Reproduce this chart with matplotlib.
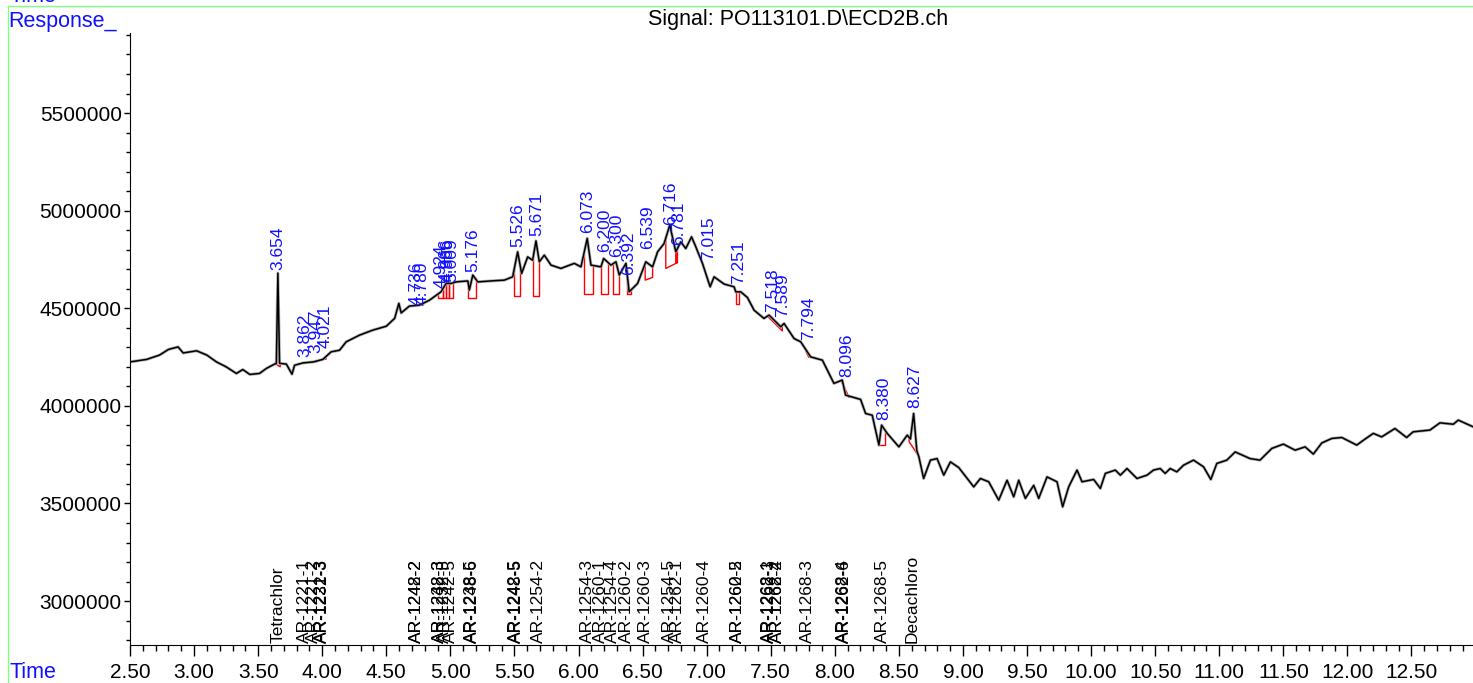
import numpy as np
import matplotlib
matplotlib.use("Agg")
import matplotlib.pyplot as plt
from matplotlib.lines import Line2D
from matplotlib.ticker import MultipleLocator, FuncFormatter

plt.rcParams['font.family'] = ['Liberation Sans', 'DejaVu Sans']

# signal trace (time in min, response)
trace_t = [2.50, 2.63, 2.73, 2.80, 2.875, 2.915, 3.02, 3.10, 3.175, 3.25, 3.33, 3.38, 3.435, 3.51, 3.565,
           3.628, 3.642, 3.654, 3.667, 3.72, 3.764, 3.784, 3.85, 3.93, 4.005, 4.07, 4.135, 4.187, 4.29,
           4.395, 4.50, 4.565, 4.598, 4.616, 4.68, 4.758, 4.836, 4.927, 4.966, 5.005, 5.044, 5.136, 5.148,
           5.175, 5.214, 5.317, 5.421, 5.486, 5.525, 5.556, 5.603, 5.642, 5.668, 5.694, 5.733, 5.785, 5.863,
           5.967, 6.019, 6.068, 6.097, 6.175, 6.196, 6.253, 6.292, 6.318, 6.37, 6.395, 6.461, 6.525, 6.578,
           6.617, 6.668, 6.712, 6.759, 6.798, 6.837, 6.882, 6.915, 6.967, 7.027, 7.058, 7.136, 7.214, 7.227,
           7.266, 7.318, 7.37, 7.447, 7.487, 7.578, 7.604, 7.682, 7.734, 7.811, 7.903, 7.993, 8.058, 8.084,
           8.201, 8.24, 8.292, 8.344, 8.365, 8.409, 8.50, 8.565, 8.590, 8.615, 8.640, 8.656, 8.693, 8.746,
           8.798, 8.85, 8.902, 8.967, 9.033, 9.084, 9.136, 9.201, 9.279, 9.344, 9.396, 9.435, 9.487, 9.552,
           9.591, 9.656, 9.734, 9.778, 9.825, 9.89, 9.929, 10.02, 10.072, 10.111, 10.189, 10.228, 10.28,
           10.358, 10.436, 10.487, 10.539, 10.578, 10.617, 10.669, 10.721, 10.799, 10.877, 10.934, 10.981,
           11.059, 11.124, 11.24, 11.318, 11.41, 11.50, 11.592, 11.67, 11.734, 11.80, 11.878, 11.956, 12.073,
           12.125, 12.202, 12.267, 12.371, 12.462, 12.513, 12.644, 12.722, 12.826, 12.865, 12.969, 12.98]
trace_v = [4225000, 4238000, 4260000, 4289000, 4302000, 4271000, 4282000, 4260000, 4225000, 4200000,
           4166000, 4186000, 4161000, 4166000, 4192000, 4214000, 4216000, 4680000, 4218000, 4214000,
           4162000, 4208000, 4220000, 4225000, 4238000, 4277000, 4285000, 4328000, 4362000, 4388000,
           4408000, 4448000, 4525000, 4476000, 4511000, 4516000, 4541000, 4584000, 4627000, 4627000,
           4635000, 4640000, 4593000, 4670000, 4635000, 4640000, 4644000, 4661000, 4789000, 4678000,
           4763000, 4746000, 4845000, 4738000, 4772000, 4721000, 4704000, 4730000, 4712000, 4858000,
           4721000, 4712000, 4755000, 4721000, 4738000, 4670000, 4730000, 4584000, 4627000, 4738000,
           4712000, 4789000, 4832000, 4926000, 4789000, 4840000, 4806000, 4866000, 4815000, 4730000,
           4610000, 4661000, 4624000, 4610000, 4584000, 4584000, 4555000, 4490000, 4448000, 4465000,
           4405000, 4422000, 4345000, 4328000, 4251000, 4234000, 4115000, 4132000, 4055000, 4033000,
           3961000, 3952000, 3799000, 3901000, 3859000, 3790000, 3850000, 3830000, 3961000, 3770000,
           3739000, 3628000, 3722000, 3730000, 3645000, 3713000, 3684000, 3628000, 3585000, 3628000,
           3611000, 3517000, 3619000, 3534000, 3619000, 3526000, 3593000, 3526000, 3636000, 3611000,
           3483000, 3585000, 3671000, 3611000, 3623000, 3577000, 3654000, 3671000, 3645000, 3679000,
           3628000, 3645000, 3671000, 3679000, 3654000, 3679000, 3662000, 3696000, 3722000, 3688000,
           3623000, 3705000, 3722000, 3764000, 3730000, 3722000, 3782000, 3804000, 3773000, 3790000,
           3753000, 3810000, 3833000, 3838000, 3799000, 3824000, 3859000, 3841000, 3884000, 3838000,
           3867000, 3876000, 3913000, 3906000, 3927000, 3896000, 3893000]

# integrated peaks: retention time label and label height
peak_rt = ['3.654', '3.862', '3.947', '4.021', '4.736', '4.780', '4.924', '4.966', '4.986', '5.009',
           '5.176', '5.526', '5.671', '6.073', '6.200', '6.300', '6.392', '6.539', '6.716', '6.781',
           '7.015', '7.251', '7.518', '7.589', '7.794', '8.096', '8.380', '8.627']
peak_v = [4695000, 4249000, 4270000, 4296000, 4516000, 4516000, 4603000, 4634000, 4634000, 4634000,
          4685000, 4813000, 4869000, 4885000, 4787000, 4762000, 4670000, 4803000, 4926000, 4824000,
          4746000, 4623000, 4480000, 4454000, 4337000, 4147000, 3927000, 3988000]

# integration baselines: start, end, start level, end level
bl_t0 = [3.640, 3.855, 3.940, 4.010, 4.730, 4.906, 4.941, 4.966, 4.993, 5.136, 5.499, 5.642, 6.040,
         6.175, 6.271, 6.375, 6.520, 6.681, 6.760, 6.967, 7.227, 7.480, 7.772, 8.053, 8.344, 8.580]
bl_t1 = [3.672, 3.870, 3.955, 4.030, 4.790, 4.941, 4.966, 4.993, 5.019, 5.200, 5.546, 5.694, 6.110,
         6.232, 6.313, 6.408, 6.578, 6.760, 6.772, 7.027, 7.253, 7.590, 7.798, 8.112, 8.388, 8.658]
bl_v0 = [4214000, 4222000, 4226000, 4238000, 4512000, 4550000, 4550000, 4550000, 4550000, 4555000,
         4562000, 4562000, 4572000, 4572000, 4575000, 4575000, 4644000, 4704000, 4730000, 4730000,
         4521000, 4456000, 4282000, 4123000, 3799000, 3816000]
bl_v1 = [4200000, 4220000, 4224000, 4240000, 4518000, 4550000, 4550000, 4550000, 4550000, 4555000,
         4562000, 4562000, 4572000, 4572000, 4575000, 4575000, 4658000, 4730000, 4733000, 4610000,
         4521000, 4384000, 4248000, 4043000, 3799000, 3739000]

# expected compound windows (bottom labels)
cmp_names = ['Tetrachlor', 'AR-1221-1', 'AR-1221-2', 'AR-1221-3', 'AR-1232-3', 'AR-1242-2', 'AR-1248-2',
             'AR-1232-3', 'AR-1248-3', 'AR-1232-5', 'AR-1242-5', 'AR-1238-5', 'AR-1248-6',
             'AR-1242-5', 'AR-1248-5', 'AR-1254-2', 'AR-1254-3', 'AR-1260-1', 'AR-1254-4', 'AR-1260-2',
             'AR-1260-3', 'AR-1254-5', 'AR-1262-1', 'AR-1260-4', 'AR-1260-5', 'AR-1262-2', 'AR-1268-1',
             'AR-1262-3', 'AR-1262-4', 'AR-1268-2', 'AR-1268-3', 'AR-1268-4', 'AR-1262-6', 'AR-1268-5',
             'Decachloro']
cmp_t = [3.655, 3.862, 3.93, 3.998, 4.002, 4.733, 4.737, 4.912, 4.918, 4.953, 4.998, 5.164, 5.170,
         5.508, 5.512, 5.689, 6.072, 6.175, 6.266, 6.377, 6.525, 6.707, 6.772, 6.98, 7.238, 7.242,
         7.485, 7.489, 7.550, 7.554, 7.786, 8.070, 8.074, 8.370, 8.604]

blue = '#1010ff'

fig = plt.figure(figsize=(14.73, 6.83), dpi=100)
ax = fig.add_axes([130 / 1473, 38 / 683, 1 - 130 / 1473, 612 / 683])

# light grey fuzz under the trace, then the trace itself
ax.plot(trace_t, trace_v, color='#b0b0b0', lw=2.2, zorder=2.5)
ax.plot(trace_t, trace_v, color='black', lw=1.1, zorder=3)

for t0, t1, v0, v1 in zip(bl_t0, bl_t1, bl_v0, bl_v1):
    s0 = np.interp(t0, trace_t, trace_v)
    s1 = np.interp(t1, trace_t, trace_v)
    ax.plot([t0, t0, t1, t1], [s0, v0, v1, s1], color='red', lw=1, zorder=2)

for lab, v in zip(peak_rt, peak_v):
    ax.text(float(lab), v, lab, rotation=90, ha='center', va='bottom', color=blue, fontsize=12.5)

for name, t in zip(cmp_names, cmp_t):
    ax.text(t, 0.004, name, rotation=90, ha='center', va='bottom', fontsize=12.5,
            transform=ax.get_xaxis_transform())

ax.set_xlim(2.5, 12.98)
ax.set_ylim(2775000, 5910000)
ax.spines['top'].set_visible(False)
ax.spines['right'].set_visible(False)
ax.xaxis.set_major_locator(MultipleLocator(0.5))
ax.xaxis.set_minor_locator(MultipleLocator(0.1))
ax.yaxis.set_major_locator(MultipleLocator(500000))
ax.yaxis.set_minor_locator(MultipleLocator(100000))
ax.xaxis.set_major_formatter(FuncFormatter(lambda x, p: f'{x:.2f}'))
ax.yaxis.set_major_formatter(FuncFormatter(lambda y, p: f'{int(round(y))}'))
ax.tick_params(axis='x', which='major', length=8, width=1, labelsize=15, pad=5)
ax.tick_params(axis='x', which='minor', length=4, width=1)
ax.tick_params(axis='y', which='major', length=4, width=1, labelsize=15, pad=2)
ax.tick_params(axis='y', which='minor', length=3, width=1)

fig.text(648 / 1473, 1 - 20 / 683, 'Signal: PO113101.D\\ECD2B.ch', ha='left', va='center', fontsize=15.5)
fig.text(8 / 1473, 1 - 27 / 683, 'Response_', ha='left', va='baseline', fontsize=15.5, color=blue)
fig.text(10 / 1473, 1 - 2 / 683, 'Time', ha='left', va='baseline', fontsize=15.5, color=blue)
fig.text(10 / 1473, 1 - 673 / 683, 'Time', ha='left', va='center', fontsize=15.5, color=blue)

green = '#80ff80'
fig.add_artist(Line2D([8 / 1473, 8 / 1473], [0, 1 - 6 / 683], color=green, lw=1, transform=fig.transFigure))
fig.add_artist(Line2D([8 / 1473, 1], [1 - 6 / 683, 1 - 6 / 683], color=green, lw=1, transform=fig.transFigure))

fig.savefig('out.png', dpi=100)
